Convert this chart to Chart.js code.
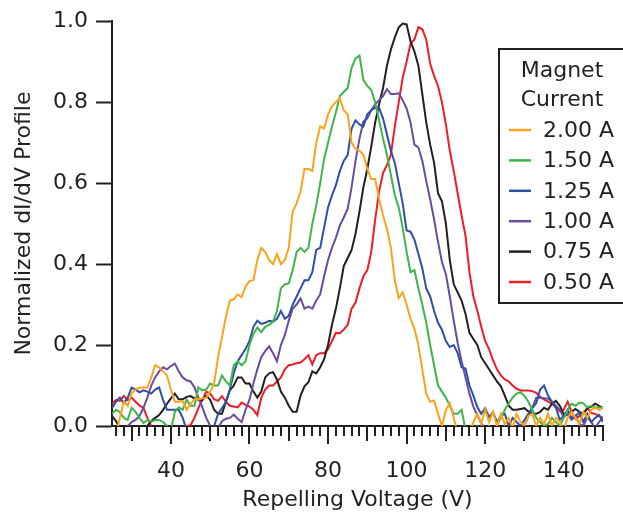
<!DOCTYPE html>
<html lang="en">
<head>
<meta charset="UTF-8" />
<title>dI/dV profile</title>
<script src="https://cdn.jsdelivr.net/npm/chart.js@4.4.1/dist/chart.umd.min.js"></script>
<style>
  body { margin: 0; background: #fff; }
  canvas { display: block; }
</style>
</head>
<body>
<canvas id="profile" width="623" height="518"></canvas>
<script>
// repelling voltage (V), one sample per volt
const volts = [
  25, 26, 27, 28, 29, 30, 31, 32, 33, 34, 35, 36, 37, 38, 39, 40, 41, 42, 43, 44,
  45, 46, 47, 48, 49, 50, 51, 52, 53, 54, 55, 56, 57, 58, 59, 60, 61, 62, 63, 64,
  65, 66, 67, 68, 69, 70, 71, 72, 73, 74, 75, 76, 77, 78, 79, 80, 81, 82, 83, 84,
  85, 86, 87, 88, 89, 90, 91, 92, 93, 94, 95, 96, 97, 98, 99, 100, 101, 102, 103, 104,
  105, 106, 107, 108, 109, 110, 111, 112, 113, 114, 115, 116, 117, 118, 119, 120, 121, 122, 123, 124,
  125, 126, 127, 128, 129, 130, 131, 132, 133, 134, 135, 136, 137, 138, 139, 140, 141, 142, 143, 144,
  145, 146, 147, 148, 149, 150
];

const amp200 = [
  -0.03, -0.02, 0.02, 0.06, 0.05, 0.08, 0.09, 0.095, 0.095, 0.095, 0.12, 0.15, 0.145, 0.135, 0.125, 0.09, 0.06, 0.06, 0.062, 0.04,
  0.055, 0.066, 0.066, 0.068, 0.07, 0.085, 0.105, 0.17, 0.22, 0.27, 0.31, 0.313, 0.325, 0.318, 0.345, 0.358, 0.36, 0.41, 0.44, 0.43,
  0.41, 0.40, 0.425, 0.40, 0.41, 0.44, 0.53, 0.55, 0.58, 0.635, 0.635, 0.63, 0.70, 0.74, 0.735, 0.77, 0.79, 0.80, 0.81, 0.78,
  0.77, 0.70, 0.685, 0.68, 0.67, 0.635, 0.61, 0.61, 0.56, 0.52, 0.487, 0.44, 0.36, 0.316, 0.33, 0.30, 0.265, 0.24, 0.20, 0.14,
  0.08, 0.06, 0.063, 0.03, 0.0, 0.04, 0.056, 0.02, -0.02, -0.04, -0.04, -0.02, 0.01, 0.03, 0.005, 0.04, 0.01, 0.035, 0.0, 0.03,
  0.005, 0.02, -0.005, 0.03, 0.01, 0.0, 0.025, 0.03, 0.0, 0.02, 0.005, 0.03, 0.0, 0.02, 0.01, -0.01, 0.02, 0.035, 0.02, 0.005,
  0.035, 0.02, 0.04, 0.045, 0.04, 0.045
];

const amp150 = [
  0.03, 0.04, 0.035, 0.02, 0.015, 0.045, 0.035, 0.02, 0.007, 0.015, 0.01, 0.015, 0.015, 0.01, 0.0, -0.01, 0.035, 0.046, 0.04, 0.065,
  0.05, 0.05, 0.095, 0.088, 0.09, 0.105, 0.10, 0.10, 0.125, 0.11, 0.10, 0.15, 0.16, 0.15, 0.16, 0.20, 0.228, 0.243, 0.232, 0.245,
  0.25, 0.258, 0.284, 0.34, 0.35, 0.352, 0.385, 0.43, 0.44, 0.43, 0.44, 0.50, 0.545, 0.60, 0.66, 0.70, 0.74, 0.775, 0.815, 0.825,
  0.835, 0.885, 0.908, 0.915, 0.855, 0.84, 0.83, 0.80, 0.755, 0.71, 0.67, 0.62, 0.57, 0.54, 0.49, 0.43, 0.38, 0.385, 0.34, 0.30,
  0.255, 0.20, 0.15, 0.10, 0.085, 0.07, 0.05, 0.03, 0.03, 0.04, -0.01, -0.02, -0.01, 0.0, -0.02, -0.01, 0.0, -0.01, 0.0, 0.02,
  0.04, 0.056, 0.07, 0.08, 0.083, 0.075, 0.06, 0.04, 0.02, 0.01, 0.0, 0.005, 0.02, 0.01, 0.0, 0.02, 0.04, 0.055, 0.05, 0.058,
  0.056, 0.046, 0.05, 0.046, 0.046, 0.046
];

const amp125 = [
  0.044, 0.06, 0.07, 0.056, 0.07, 0.095, 0.09, 0.083, 0.088, 0.085, 0.08, 0.09, 0.095, 0.064, 0.04, 0.04, 0.04, 0.04, 0.02, -0.01,
  -0.02, -0.03, -0.03, -0.03, -0.02, -0.01, 0.0, 0.03, 0.044, 0.06, 0.09, 0.13, 0.16, 0.175, 0.19, 0.21, 0.245, 0.26, 0.252, 0.255,
  0.26, 0.258, 0.265, 0.284, 0.265, 0.272, 0.30, 0.32, 0.34, 0.36, 0.36, 0.38, 0.435, 0.44, 0.49, 0.54, 0.57, 0.595, 0.63, 0.655,
  0.67, 0.735, 0.755, 0.745, 0.74, 0.77, 0.78, 0.786, 0.786, 0.76, 0.72, 0.68, 0.65, 0.60, 0.55, 0.483, 0.48, 0.46, 0.425, 0.39,
  0.34, 0.32, 0.284, 0.255, 0.238, 0.21, 0.195, 0.20, 0.18, 0.145, 0.142, 0.10, 0.075, 0.047, 0.03, 0.044, 0.022, 0.034, 0.01, 0.025,
  0.03, 0.0, 0.02, 0.01, 0.0, 0.015, 0.03, 0.045, 0.056, 0.09, 0.10, 0.075, 0.06, 0.046, 0.015, 0.025, 0.04, 0.02, 0.025, 0.034,
  0.01, 0.03, 0.01, 0.02, 0.027, 0.01
];

const amp100 = [
  -0.03, -0.03, -0.02, -0.01, 0.0, 0.01, 0.015, 0.025, 0.045, 0.07, 0.10, 0.12, 0.135, 0.145, 0.14, 0.148, 0.154, 0.135, 0.12, 0.113,
  0.11, 0.095, 0.07, 0.046, 0.02, 0.0, -0.02, -0.005, 0.012, 0.018, 0.02, 0.028, 0.018, 0.01, 0.04, 0.065, 0.105, 0.14, 0.17, 0.185,
  0.197, 0.18, 0.16, 0.20, 0.225, 0.26, 0.29, 0.30, 0.315, 0.29, 0.295, 0.29, 0.31, 0.325, 0.37, 0.41, 0.44, 0.465, 0.495, 0.515,
  0.537, 0.59, 0.655, 0.71, 0.752, 0.76, 0.78, 0.795, 0.805, 0.815, 0.832, 0.82, 0.82, 0.822, 0.805, 0.785, 0.75, 0.695, 0.688, 0.655,
  0.605, 0.56, 0.51, 0.455, 0.405, 0.375, 0.32, 0.26, 0.205, 0.16, 0.12, 0.08, 0.048, 0.027, 0.007, -0.01, -0.02, -0.03, -0.03, -0.02,
  -0.03, -0.02, -0.03, -0.02, -0.01, 0.0, 0.025, 0.045, 0.07, 0.07, 0.068, 0.068, 0.06, 0.05, 0.04, 0.022, 0.03, 0.015, 0.025, 0.005,
  0.0, 0.022, 0.01, -0.005, 0.01, 0.02
];

const amp075 = [
  0.025, 0.012, -0.005, -0.02, -0.03, -0.03, -0.03, -0.02, -0.01, 0.0, 0.012, 0.02, 0.027, 0.04, 0.055, 0.068, 0.08, 0.066, 0.066, 0.072,
  0.074, 0.068, 0.065, 0.064, 0.075, 0.065, 0.04, 0.03, 0.03, 0.06, 0.088, 0.10, 0.12, 0.12, 0.105, 0.105, 0.085, 0.07, 0.085, 0.12,
  0.13, 0.133, 0.115, 0.085, 0.07, 0.05, 0.035, 0.035, 0.075, 0.098, 0.108, 0.135, 0.13, 0.145, 0.165, 0.20, 0.25, 0.29, 0.34, 0.395,
  0.415, 0.435, 0.475, 0.53, 0.59, 0.635, 0.69, 0.75, 0.795, 0.835, 0.89, 0.93, 0.96, 0.985, 0.994, 0.992, 0.95, 0.925, 0.89, 0.82,
  0.75, 0.695, 0.65, 0.575, 0.555, 0.50, 0.41, 0.35, 0.33, 0.31, 0.277, 0.23, 0.215, 0.20, 0.17, 0.155, 0.14, 0.125, 0.11, 0.098,
  0.075, 0.05, 0.04, 0.04, 0.042, 0.044, 0.036, 0.03, 0.03, 0.035, 0.045, 0.04, 0.055, 0.062, 0.05, 0.03, 0.028, 0.035, 0.042, 0.035,
  0.03, 0.044, 0.048, 0.055, 0.05, 0.044
];

const amp050 = [
  0.056, 0.064, 0.062, 0.074, 0.064, 0.07, 0.06, 0.05, 0.045, 0.02, 0.0, -0.02, -0.03, -0.03, -0.03, -0.03, -0.03, -0.02, -0.01, 0.0,
  0.002, 0.02, 0.045, 0.065, 0.085, 0.08, 0.066, 0.062, 0.074, 0.06, 0.05, 0.048, 0.046, 0.058, 0.052, 0.048, 0.04, 0.027, 0.07, 0.09,
  0.10, 0.10, 0.11, 0.12, 0.14, 0.15, 0.152, 0.155, 0.157, 0.165, 0.175, 0.152, 0.175, 0.18, 0.18, 0.19, 0.21, 0.23, 0.229, 0.238,
  0.25, 0.29, 0.305, 0.34, 0.37, 0.385, 0.43, 0.51, 0.58, 0.625, 0.645, 0.67, 0.74, 0.80, 0.86, 0.90, 0.945, 0.955, 0.985, 0.98,
  0.955, 0.895, 0.865, 0.84, 0.80, 0.745, 0.68, 0.63, 0.575, 0.52, 0.47, 0.38, 0.32, 0.285, 0.245, 0.21, 0.19, 0.163, 0.14, 0.125,
  0.115, 0.11, 0.10, 0.092, 0.088, 0.088, 0.088, 0.086, 0.082, 0.072, 0.066, 0.06, 0.055, 0.046, 0.036, 0.04, 0.06, 0.035, 0.018, 0.025,
  0.03, 0.045, 0.032, 0.03, 0.025, 0.02
];

const seriesLabels = ['2.00 A', '1.50 A', '1.25 A', '1.00 A', '0.75 A', '0.50 A'];
const seriesColors = ['#FBA31A', '#3DB54A', '#2F4FA2', '#6A4B9E', '#231F20', '#EE1C25'];
const seriesValues = [amp200, amp150, amp125, amp100, amp075, amp050];

const xTicks = [40, 60, 80, 100, 120, 140];
const yTicks = [0, 0.2, 0.4, 0.6, 0.8, 1.0];
const yTickLabels = ['0.0', '0.2', '0.4', '0.6', '0.8', '1.0'];

const ink = '#231F20';
const fontFamily = '"DejaVu Sans", sans-serif';

// small tick marks under the voltage axis (every 2 V, longer at 10 and 20)
const minorTicks = {
  id: 'minorTicks',
  afterDraw(chart) {
    const xs = chart.scales.x;
    const c = chart.ctx;
    const y0 = chart.chartArea.bottom;
    c.save();
    c.strokeStyle = ink;
    c.lineWidth = 2;
    for (let v = 26; v <= 150; v += 2) {
      let len = 10;
      if (v % 20 === 0) len = 18;
      else if (v % 10 === 0) len = 15;
      const px = Math.round(xs.getPixelForValue(v));
      c.beginPath();
      c.moveTo(px, y0);
      c.lineTo(px, y0 + len);
      c.stroke();
    }
    c.restore();
  }
};

// boxed legend with a two-line title, drawn inside the plot
const boxLegend = {
  id: 'boxLegend',
  afterDraw(chart) {
    const c = chart.ctx;
    const left = 499, top = 49, bottom = 303;
    c.save();
    c.fillStyle = '#fff';
    c.fillRect(left, top, 140, bottom - top);
    c.strokeStyle = ink;
    c.lineWidth = 2;
    c.strokeRect(left, top, 140, bottom - top);

    c.font = '22px ' + fontFamily;
    c.fillStyle = ink;
    c.textBaseline = 'middle';
    c.textAlign = 'center';
    c.fillText('Magnet', 562, 71);
    c.fillText('Current', 562, 100);

    c.textAlign = 'left';
    chart.data.datasets.forEach((ds, i) => {
      const y = 130 + i * 30.4;
      c.strokeStyle = ds.borderColor;
      c.lineWidth = 2.5;
      c.beginPath();
      c.moveTo(509, y);
      c.lineTo(531, y);
      c.stroke();
      c.fillStyle = ink;
      c.fillText(ds.label, 543, y + 1);
    });
    c.restore();
  }
};

const datasets = seriesLabels.map((label, i) => ({
  label: label,
  data: volts.map((v, k) => ({ x: v, y: seriesValues[i][k] })),
  borderColor: seriesColors[i],
  backgroundColor: seriesColors[i],
  borderWidth: 2,
  pointRadius: 0,
  tension: 0,
  fill: false
}));

const ctx = document.getElementById('profile').getContext('2d');

new Chart(ctx, {
  type: 'line',
  data: { datasets: datasets },
  options: {
    responsive: false,
    animation: false,
    devicePixelRatio: 1,
    layout: { padding: { top: 18, right: 20, bottom: 0, left: 0 } },
    plugins: {
      legend: { display: false },
      tooltip: { enabled: false }
    },
    scales: {
      x: {
        type: 'linear',
        position: 'bottom',
        min: 25,
        max: 150,
        afterBuildTicks: (s) => { s.ticks = xTicks.map(v => ({ value: v })); },
        afterFit: (s) => { s.height = 92; },
        ticks: {
          autoSkip: false,
          maxRotation: 0,
          padding: 32,
          color: ink,
          font: { family: fontFamily, size: 22 }
        },
        grid: { drawOnChartArea: false, drawTicks: false },
        border: { color: ink, width: 2 },
        title: {
          display: true,
          text: 'Repelling Voltage (V)',
          color: ink,
          font: { family: fontFamily, size: 22 },
          padding: { top: 0, bottom: 5 }
        }
      },
      y: {
        min: 0,
        max: 1,
        afterBuildTicks: (s) => { s.ticks = yTicks.map(v => ({ value: v })); },
        afterFit: (s) => { s.width = 112; },
        ticks: {
          padding: 8,
          color: ink,
          font: { family: fontFamily, size: 22 },
          callback: (v, i) => yTickLabels[i]
        },
        grid: {
          drawOnChartArea: false,
          drawTicks: true,
          tickLength: 16,
          tickWidth: 2,
          tickColor: ink
        },
        border: { color: ink, width: 2 },
        title: {
          display: true,
          text: 'Normalized dI/dV Profile',
          color: ink,
          font: { family: fontFamily, size: 22 },
          padding: { top: 11, bottom: 0 }
        }
      }
    }
  },
  plugins: [minorTicks, boxLegend]
});
</script>
</body>
</html>
